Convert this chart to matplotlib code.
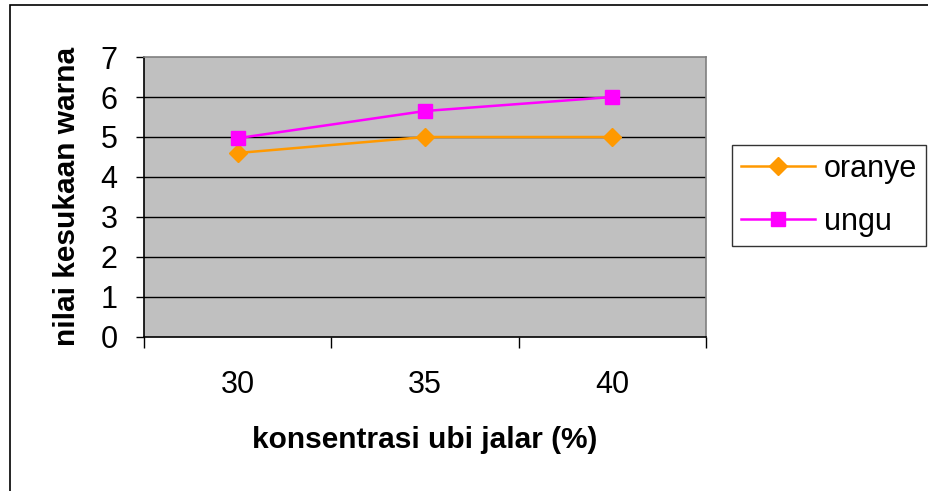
import matplotlib
matplotlib.use("Agg")
import matplotlib.pyplot as plt
from matplotlib.patches import Rectangle

categories = ["30", "35", "40"]
oranye = [4.6, 5.0, 5.0]
ungu = [4.97, 5.65, 6.0]
yticks = [0, 1, 2, 3, 4, 5, 6, 7]

plt.rcParams['font.family'] = ['Liberation Sans', 'DejaVu Sans']

W, H = 929, 491
fig = plt.figure(figsize=(W / 100, H / 100), dpi=100)

def fx(px):
    return px / W

def fy(py):
    return 1 - py / H

left, right, top, bottom = 144, 706, 57, 337
ax = fig.add_axes([fx(left), fy(bottom), fx(right - left), (bottom - top) / H])
ax.set_facecolor('#C0C0C0')

x = list(range(len(categories)))
ax.plot(x, oranye, color='#FF9900', lw=1.8, marker='D', markersize=9,
        markeredgecolor='#FF9900', label='oranye', zorder=3, clip_on=False)
ax.plot(x, ungu, color='#FF00FF', lw=1.8, marker='s', markersize=10,
        markeredgecolor='#FF00FF', label='ungu', zorder=3, clip_on=False)

ax.set_xlim(-0.5, len(categories) - 0.5)
ax.set_ylim(0, 7)
ax.set_yticks(yticks)
ax.set_yticklabels([str(t) for t in yticks])
ax.set_xticks(x)
ax.set_xticklabels(categories)
ax.set_xticks([i - 0.5 for i in range(len(categories) + 1)], minor=True)
ax.tick_params(axis='x', which='major', length=0, pad=24, labelsize=22)
ax.tick_params(axis='x', which='minor', length=8, width=1, color='black', direction='out')
ax.tick_params(axis='y', which='major', length=6, width=1, color='black', direction='out',
               pad=13, labelsize=22)

for yv in yticks[1:-1]:
    ax.axhline(yv, color='black', lw=1, zorder=1)

ax.spines['left'].set_color('black')
ax.spines['bottom'].set_color('black')
ax.spines['top'].set_color('#808080')
ax.spines['right'].set_color('#808080')
for s in ax.spines.values():
    s.set_linewidth(1.2)

fig.text(fx(425), fy(440), 'konsentrasi ubi jalar (%)', ha='center', va='center',
         fontsize=21.5, fontweight='bold')
fig.text(fx(67), fy(196), 'nilai kesukaan warna', ha='center', va='center',
         rotation=90, fontsize=21.5, fontweight='bold')

leg = fig.legend(loc='upper left', bbox_to_anchor=(fx(732), fy(145)),
                 fontsize=22, frameon=True, fancybox=False, edgecolor='black',
                 handlelength=2.4, handletextpad=0.3, labelspacing=0.75,
                 borderpad=0.3, borderaxespad=0)
leg.get_frame().set_linewidth(1)

fig.patches.append(Rectangle((fx(10), fy(560)), 2, fy(5) - fy(560),
                             transform=fig.transFigure, fill=False,
                             edgecolor='black', lw=1.2))

fig.savefig('out.png', dpi=100)
